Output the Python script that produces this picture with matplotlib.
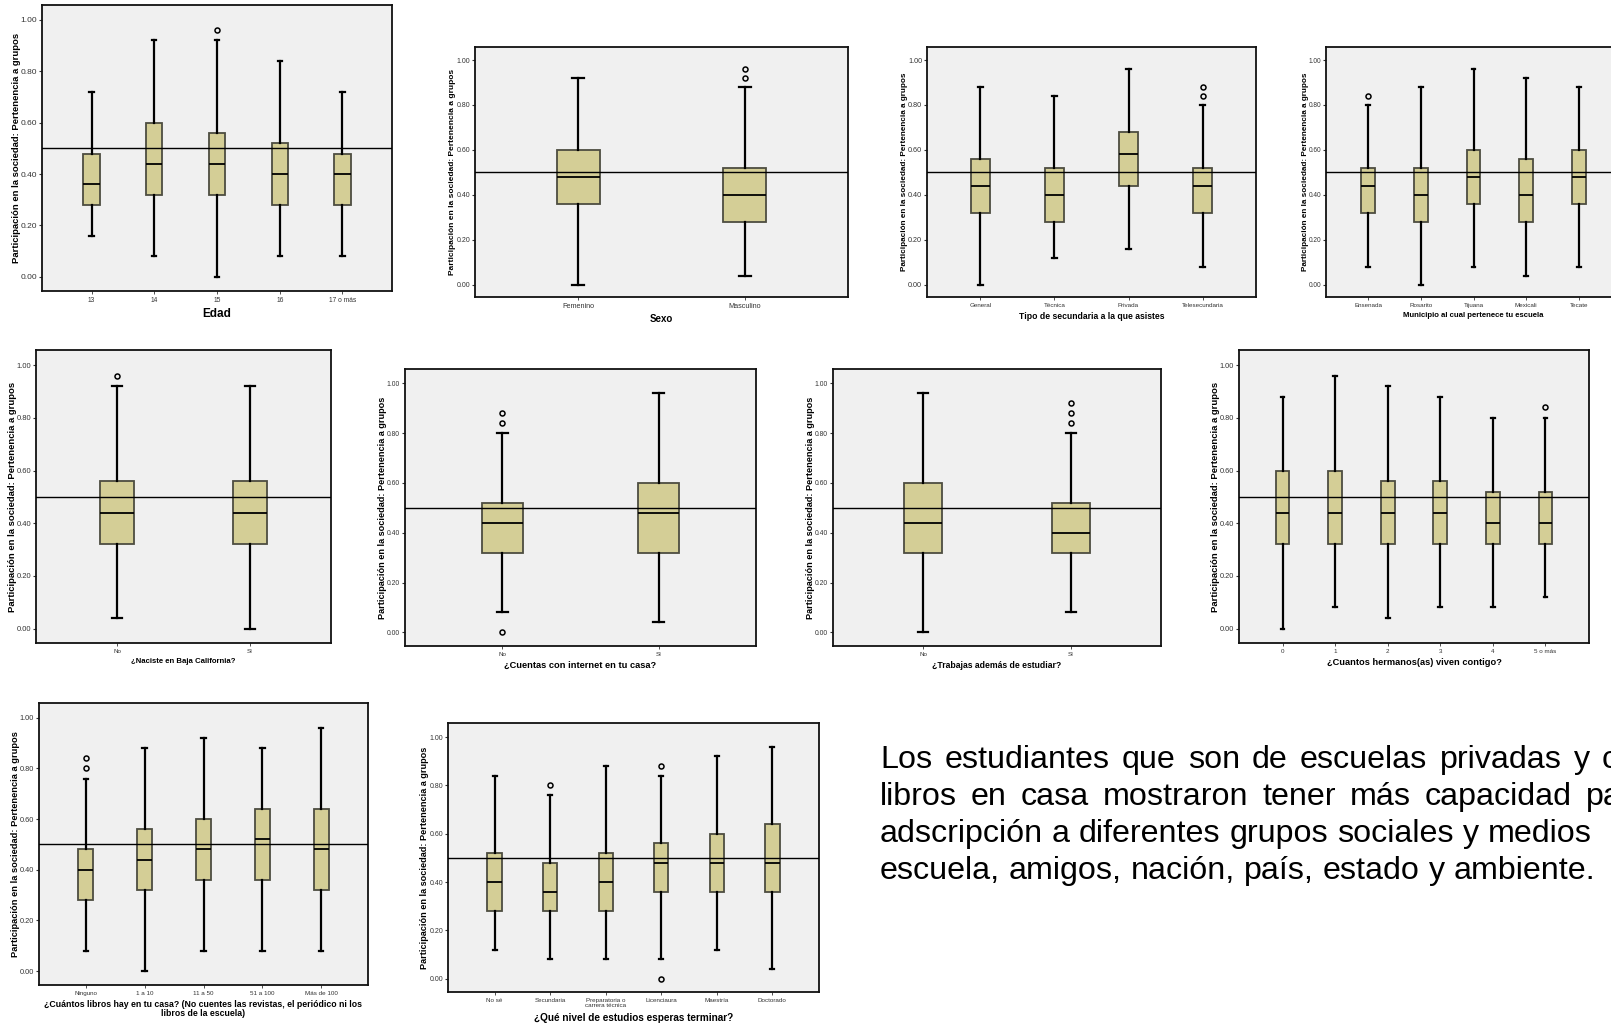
import matplotlib
matplotlib.use('Agg')
import matplotlib.pyplot as plt

plt.rcParams['font.family'] = ['Liberation Sans', 'DejaVu Sans']

# ===========================================================================
# Data (whisker low, Q1, median, Q3, whisker high)
# ===========================================================================
EDAD_CATS = ['13', '14', '15', '16', '17 o más']
EDAD_LO = [0.16, 0.08, 0.00, 0.08, 0.08]
EDAD_Q1 = [0.28, 0.32, 0.32, 0.28, 0.28]
EDAD_MED = [0.36, 0.44, 0.44, 0.40, 0.40]
EDAD_Q3 = [0.48, 0.60, 0.56, 0.52, 0.48]
EDAD_HI = [0.72, 0.92, 0.92, 0.84, 0.72]
EDAD_OUT = [[], [], [0.96], [], []]

SEXO_CATS = ['Femenino', 'Masculino']
SEXO_LO = [0.00, 0.04]
SEXO_Q1 = [0.36, 0.28]
SEXO_MED = [0.48, 0.40]
SEXO_Q3 = [0.60, 0.52]
SEXO_HI = [0.92, 0.88]
SEXO_OUT = [[], [0.92, 0.96]]

TIPO_CATS = ['General', 'Técnica', 'Privada', 'Telesecundaria']
TIPO_LO = [0.00, 0.12, 0.16, 0.08]
TIPO_Q1 = [0.32, 0.28, 0.44, 0.32]
TIPO_MED = [0.44, 0.40, 0.58, 0.44]
TIPO_Q3 = [0.56, 0.52, 0.68, 0.52]
TIPO_HI = [0.88, 0.84, 0.96, 0.80]
TIPO_OUT = [[], [], [], [0.84, 0.88]]

MUNI_CATS = ['Ensenada', 'Rosarito', 'Tijuana', 'Mexicali', 'Tecate']
MUNI_LO = [0.08, 0.00, 0.08, 0.04, 0.08]
MUNI_Q1 = [0.32, 0.28, 0.36, 0.28, 0.36]
MUNI_MED = [0.44, 0.40, 0.48, 0.40, 0.48]
MUNI_Q3 = [0.52, 0.52, 0.60, 0.56, 0.60]
MUNI_HI = [0.80, 0.88, 0.96, 0.92, 0.88]
MUNI_OUT = [[0.84], [], [], [], []]

BC_CATS = ['No', 'Sí']
BC_LO = [0.04, 0.00]
BC_Q1 = [0.32, 0.32]
BC_MED = [0.44, 0.44]
BC_Q3 = [0.56, 0.56]
BC_HI = [0.92, 0.92]
BC_OUT = [[0.96], []]

NET_CATS = ['No', 'Sí']
NET_LO = [0.08, 0.04]
NET_Q1 = [0.32, 0.32]
NET_MED = [0.44, 0.48]
NET_Q3 = [0.52, 0.60]
NET_HI = [0.80, 0.96]
NET_OUT = [[0.00, 0.84, 0.88], []]

TRAB_CATS = ['No', 'Sí']
TRAB_LO = [0.00, 0.08]
TRAB_Q1 = [0.32, 0.32]
TRAB_MED = [0.44, 0.40]
TRAB_Q3 = [0.60, 0.52]
TRAB_HI = [0.96, 0.80]
TRAB_OUT = [[], [0.84, 0.88, 0.92]]

HERM_CATS = ['0', '1', '2', '3', '4', '5 o más']
HERM_LO = [0.00, 0.08, 0.04, 0.08, 0.08, 0.12]
HERM_Q1 = [0.32, 0.32, 0.32, 0.32, 0.32, 0.32]
HERM_MED = [0.44, 0.44, 0.44, 0.44, 0.40, 0.40]
HERM_Q3 = [0.60, 0.60, 0.56, 0.56, 0.52, 0.52]
HERM_HI = [0.88, 0.96, 0.92, 0.88, 0.80, 0.80]
HERM_OUT = [[], [], [], [], [], [0.84]]

LIB_CATS = ['Ninguno', '1 a 10', '11 a 50', '51 a 100', 'Más de 100']
LIB_LO = [0.08, 0.00, 0.08, 0.08, 0.08]
LIB_Q1 = [0.28, 0.32, 0.36, 0.36, 0.32]
LIB_MED = [0.40, 0.44, 0.48, 0.52, 0.48]
LIB_Q3 = [0.48, 0.56, 0.60, 0.64, 0.64]
LIB_HI = [0.76, 0.88, 0.92, 0.88, 0.96]
LIB_OUT = [[0.80, 0.84], [], [], [], []]

EST_CATS = ['No sé', 'Secundaria', 'Preparatoria o\ncarrera técnica',
            'Licenciaura', 'Maestría', 'Doctorado']
EST_LO = [0.12, 0.08, 0.08, 0.08, 0.12, 0.04]
EST_Q1 = [0.28, 0.28, 0.28, 0.36, 0.36, 0.36]
EST_MED = [0.40, 0.36, 0.40, 0.48, 0.48, 0.48]
EST_Q3 = [0.52, 0.48, 0.52, 0.56, 0.60, 0.64]
EST_HI = [0.84, 0.76, 0.88, 0.84, 0.92, 0.96]
EST_OUT = [[], [0.80], [], [0.00, 0.88], [], []]

REF_LINE = 0.5
Y_TICKS = [0.0, 0.2, 0.4, 0.6, 0.8, 1.0]
YLABEL = 'Participación en la sociedad: Pertenencia a grupos'

TEXT_LINES = [
    'Los estudiantes que son de escuelas privadas y con',
    'libros en casa mostraron tener más capacidad para',
    'adscripción a diferentes grupos sociales y medios',
    'escuela, amigos, nación, país, estado y ambiente.',
]

# ===========================================================================
# Figure
# ===========================================================================
W, H = 1611, 1029
fig = plt.figure(figsize=(W / 100, H / 100), dpi=100)
fig.patch.set_facecolor('white')

BG = '#F0F0F0'
BOX = '#D4CE96'
BOX_EDGE = '#4d4d40'


def px_rect(l, t, r, b):
    return [l / W, 1 - b / H, (r - l) / W, (b - t) / H]


def draw_panel(box, cats, lo, q1, med, q3, hi, out, xlabel, pad, fs):
    ytick_fs, xtick_fs, ylab_fs, xlab_fs = fs
    ax = fig.add_axes(px_rect(*box))
    ax.set_facecolor(BG)
    stats = [dict(whislo=a, q1=b, med=c, q3=d, whishi=e, fliers=f, label=g)
             for a, b, c, d, e, f, g in zip(lo, q1, med, q3, hi, out, cats)]
    n = len(cats)
    ax.bxp(stats, positions=list(range(1, n + 1)), widths=0.26, capwidths=0.07,
           patch_artist=True,
           boxprops=dict(facecolor=BOX, edgecolor=BOX_EDGE, linewidth=1.3),
           medianprops=dict(color='black', linewidth=1.3),
           whiskerprops=dict(color='black', linewidth=1.6),
           capprops=dict(color='black', linewidth=1.6),
           flierprops=dict(marker='o', markerfacecolor='none', markeredgecolor='black',
                           markersize=3.6, markeredgewidth=1.1))
    ax.axhline(REF_LINE, color='black', linewidth=1.0, zorder=5)
    ax.set_xlim(1 - pad, n + pad)
    ax.set_ylim(-0.055, 1.058)
    ax.set_yticks(Y_TICKS)
    ax.set_yticklabels([f'{v:.2f}' for v in Y_TICKS])
    ax.tick_params(axis='y', labelsize=ytick_fs, length=2.5, width=0.8, pad=1,
                   colors='#333333')
    ax.tick_params(axis='x', labelsize=xtick_fs, length=2, width=0.6, pad=2,
                   colors='#333333')
    for s in ax.spines.values():
        s.set_linewidth(1.3)
        s.set_color('#111111')
    ax.set_ylabel(YLABEL, fontsize=ylab_fs, fontweight='bold', labelpad=0)
    ax.set_xlabel(xlabel, fontsize=xlab_fs, fontweight='bold', labelpad=3,
                  linespacing=1.0)
    return ax


draw_panel((42, 5, 392, 291), EDAD_CATS, EDAD_LO, EDAD_Q1, EDAD_MED, EDAD_Q3, EDAD_HI,
           EDAD_OUT, 'Edad', 0.79, (6.0, 4.8, 6.8, 8.5))
draw_panel((475, 47, 848, 297), SEXO_CATS, SEXO_LO, SEXO_Q1, SEXO_MED, SEXO_Q3, SEXO_HI,
           SEXO_OUT, 'Sexo', 0.62, (5.0, 5.2, 6.0, 7.0))
draw_panel((927, 47, 1256, 297), TIPO_CATS, TIPO_LO, TIPO_Q1, TIPO_MED, TIPO_Q3, TIPO_HI,
           TIPO_OUT, 'Tipo de secundaria a la que asistes', 0.72, (5.2, 4.5, 5.85, 6.2))
draw_panel((1326, 47, 1621, 297), MUNI_CATS, MUNI_LO, MUNI_Q1, MUNI_MED, MUNI_Q3, MUNI_HI,
           MUNI_OUT, 'Municipio al cual pertenece tu escuela', 0.8, (4.7, 4.5, 5.85, 5.6))

draw_panel((36, 350, 331, 643), BC_CATS, BC_LO, BC_Q1, BC_MED, BC_Q3, BC_HI,
           BC_OUT, '¿Naciste en Baja California?', 0.61, (5.5, 4.5, 6.8, 5.6))
draw_panel((405, 369, 756, 646), NET_CATS, NET_LO, NET_Q1, NET_MED, NET_Q3, NET_HI,
           NET_OUT, '¿Cuentas con internet en tu casa?', 0.62, (4.9, 4.5, 6.6, 6.7))
draw_panel((833, 369, 1161, 646), TRAB_CATS, TRAB_LO, TRAB_Q1, TRAB_MED, TRAB_Q3, TRAB_HI,
           TRAB_OUT, '¿Trabajas además de estudiar?', 0.61, (4.9, 4.5, 6.6, 6.2))
draw_panel((1239, 350, 1589, 643), HERM_CATS, HERM_LO, HERM_Q1, HERM_MED, HERM_Q3, HERM_HI,
           HERM_OUT, '¿Cuantos hermanos(as) viven contigo?', 0.83, (5.3, 4.5, 6.8, 6.7))

draw_panel((39, 703, 368, 985), LIB_CATS, LIB_LO, LIB_Q1, LIB_MED, LIB_Q3, LIB_HI,
           LIB_OUT, '¿Cuántos libros hay en tu casa? (No cuentes las revistas, el periódico ni los\n'
           'libros de la escuela)', 0.79, (5.3, 4.5, 6.7, 6.3))
draw_panel((448, 723, 819, 992), EST_CATS, EST_LO, EST_Q1, EST_MED, EST_Q3, EST_HI,
           EST_OUT, '¿Qué nivel de estudios esperas terminar?', 0.84, (5.0, 4.5, 6.6, 7.2))

# ===========================================================================
# Justified comment block (word by word; runs off the right edge)
# ---------------------------------------------------------------------------
# Lines 1-2 are stretched so their last (cut) word starts at a given x,
# line 3 so that its last word ends at a given x, line 4 is left as is.
# ===========================================================================
TXT_FS = 23.2
x0 = 880
baselines = [768, 805, 842, 879]
targets = [('start', 1602), ('start', 1586), ('end', 1589), None]

renderer = fig.canvas.get_renderer()
for line, yb, tgt in zip(TEXT_LINES, baselines, targets):
    words = line.split()
    arts = [fig.text(0, 1 - yb / H, w, fontsize=TXT_FS, va='baseline', ha='left',
                     color='black') for w in words]
    widths = [a.get_window_extent(renderer).width for a in arts]
    gap = 0.278 * TXT_FS * 100 / 72
    if tgt is not None:
        kind, xt = tgt
        if kind == 'end':
            xt -= widths[-1]
        gap = max(gap, (xt - x0 - sum(widths[:-1])) / (len(words) - 1))
    x = x0
    for a, w in zip(arts, widths):
        a.set_x(x / W)
        x += w + gap

fig.savefig('out.png', dpi=100)
